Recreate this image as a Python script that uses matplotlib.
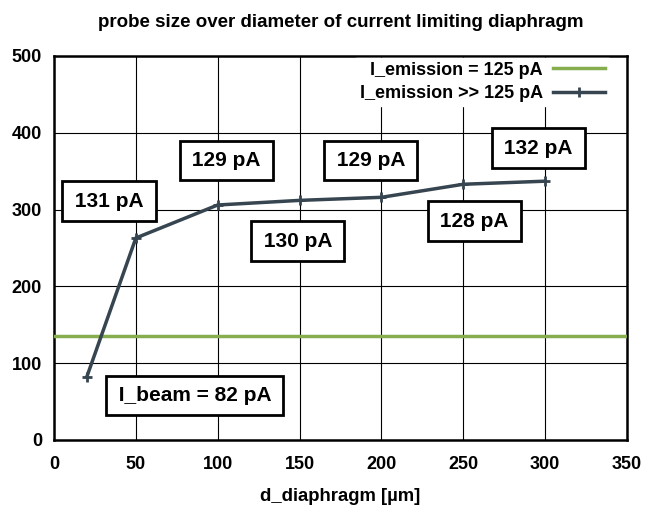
import matplotlib
matplotlib.use("Agg")
import matplotlib.pyplot as plt

plt.rcParams['font.family'] = ['Liberation Sans', 'DejaVu Sans']
plt.rcParams['font.weight'] = 'bold'

d_diaphragm = [20, 50, 100, 150, 200, 250, 300]
probe_size = [82, 263, 306, 312, 316, 333, 337]
ref_level = 135
xlim = [0, 350]
ylim = [0, 500]
x_ticks = [0, 50, 100, 150, 200, 250, 300, 350]
y_ticks = [0, 100, 200, 300, 400, 500]
labels = ["131 pA", "129 pA", "130 pA", "129 pA", "128 pA", "132 pA", "I_beam = 82 pA"]
label_x = [33.6, 105.4, 149, 193.6, 256.6, 296, 86]
label_y = [311, 364, 259, 364, 285, 380, 58]

fig = plt.figure(figsize=(6.45, 5.12), dpi=100)
ax = fig.add_axes([54 / 645, 72 / 512, 573 / 645, 384 / 512])

ax.axhline(ref_level, color='#86ad4e', lw=2.5, label='I_emission = 125 pA', zorder=3)
ax.plot(d_diaphragm, probe_size, color='#36454f', lw=2.5, marker='+', ms=7, mew=2,
        label='I_emission >> 125 pA', zorder=4)

for t, x, y in zip(labels, label_x, label_y):
    ax.text(x, y, '\u200a' + t + '\u200a', ha='center', va='center', fontsize=15,
            fontweight='bold', zorder=5,
            bbox=dict(boxstyle='square,pad=0.5', fc='white', ec='black', lw=2))

ax.set_xlim(xlim)
ax.set_ylim(ylim)
ax.set_xticks(x_ticks)
ax.set_yticks(y_ticks)
ax.tick_params(axis='x', length=0, labelsize=13, pad=11.5)
ax.tick_params(axis='y', length=0, labelsize=13, pad=8.6)
for lab in ax.get_xticklabels() + ax.get_yticklabels():
    lab.set_fontweight('bold')
ax.grid(True, color='black', lw=0.8)
ax.set_axisbelow(True)
for s in ax.spines.values():
    s.set_linewidth(1.8)

ax.set_xlabel('d_diaphragm [µm]', fontsize=13.3, fontweight='bold', labelpad=11)
ax.set_title('probe size over diameter of current limiting diaphragm', fontsize=13.5,
             fontweight='bold', pad=21)

leg = ax.legend(loc='upper right', bbox_to_anchor=(0.968, 0.995), frameon=True,
                markerfirst=False, fontsize=13, handlelength=2.9, handletextpad=0.55,
                borderaxespad=0, borderpad=0.2, labelspacing=0.36, fancybox=False)
leg.get_frame().set_facecolor('white')
leg.get_frame().set_edgecolor('white')
leg.get_frame().set_alpha(1)
for t in leg.get_texts():
    t.set_fontweight('bold')
    t.set_ha('right')

fig.savefig('out.png', dpi=100)
